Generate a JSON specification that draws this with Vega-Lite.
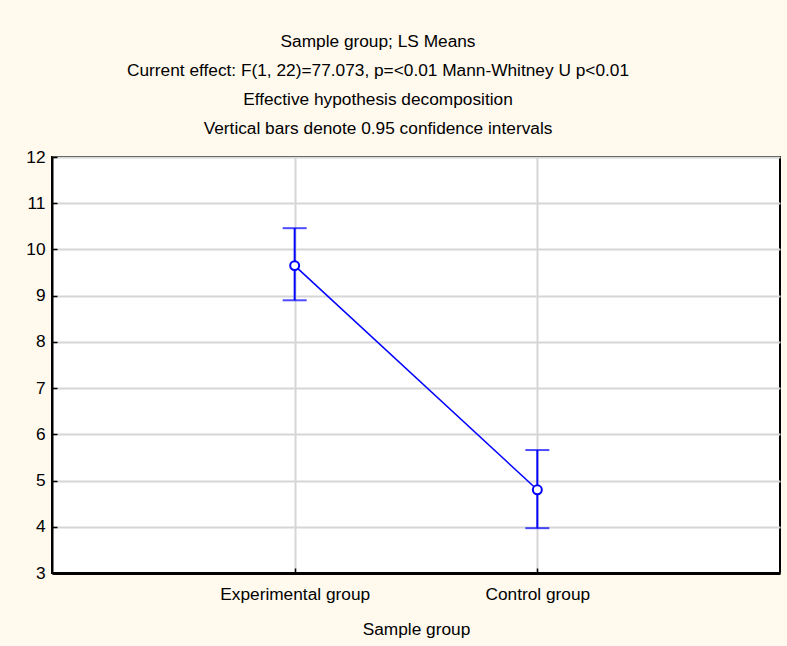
{
  "$schema": "https://vega.github.io/schema/vega-lite/v6.json",
  "autosize": "none",
  "width": 728,
  "height": 416,
  "padding": {"left": 52, "top": 157, "right": 7, "bottom": 73},
  "background": "#FFF9EE",
  "title": {
    "text": ["Sample group; LS Means", "Current effect: F(1, 22)=77.073, p=<0.01 Mann-Whitney U p<0.01", "Effective hypothesis decomposition", "Vertical bars denote 0.95 confidence intervals"],
    "anchor": "middle",
    "frame": "group",
    "dx": -38,
    "offset": 11,
    "font": "Liberation Sans",
    "fontSize": 17.3,
    "fontWeight": "normal",
    "color": "#000000",
    "lineHeight": 29
  },
  "config": {
    "view": {"fill": "#FFFFFF", "stroke": "#000000", "strokeWidth": 2},
    "axis": {
      "labelFont": "Liberation Sans",
      "labelFontSize": 17.3,
      "labelColor": "#000000",
      "titleFont": "Liberation Sans",
      "titleFontSize": 17.3,
      "titleFontWeight": "normal",
      "titleColor": "#000000",
      "gridColor": "#D6D6D6",
      "gridWidth": 2,
      "domainColor": "#000000",
      "tickColor": "#000000",
      "tickWidth": 1.5
    }
  },
  "data": {
    "values": [
      {"group": "Experimental group", "mean": 9.65, "lower": 8.9, "upper": 10.46},
      {"group": "Control group", "mean": 4.8, "lower": 3.97, "upper": 5.66}
    ]
  },
  "encoding": {
    "x": {
      "field": "group",
      "type": "nominal",
      "sort": ["Experimental group", "Control group"],
      "scale": {"type": "point", "padding": 1},
      "axis": {
        "title": "Sample group",
        "labelAngle": 0,
        "grid": true,
        "domainWidth": 3,
        "tickSize": -5,
        "labelPadding": 17,
        "titlePadding": 18
      }
    }
  },
  "layer": [
    {
      "mark": {"type": "line", "color": "#0000FF", "strokeWidth": 1.5},
      "encoding": {
        "y": {
          "field": "mean",
          "type": "quantitative",
          "scale": {"domain": [3, 12], "nice": false, "zero": false},
          "axis": {
            "title": null,
            "values": [3, 4, 5, 6, 7, 8, 9, 10, 11, 12],
            "grid": true,
            "domainWidth": 2,
            "tickSize": -5,
            "labelPadding": 12
          }
        }
      }
    },
    {
      "mark": {"type": "rule", "color": "#0000FF", "strokeWidth": 2},
      "encoding": {
        "y": {"field": "lower", "type": "quantitative"},
        "y2": {"field": "upper"}
      }
    },
    {
      "mark": {"type": "tick", "color": "#0000FF", "size": 24, "thickness": 2},
      "encoding": {"y": {"field": "upper", "type": "quantitative"}}
    },
    {
      "mark": {"type": "tick", "color": "#0000FF", "size": 24, "thickness": 2},
      "encoding": {"y": {"field": "lower", "type": "quantitative"}}
    },
    {
      "mark": {"type": "point", "shape": "circle", "filled": true, "fill": "#FFFFFF", "stroke": "#0000FF", "strokeWidth": 2, "size": 80, "opacity": 1},
      "encoding": {"y": {"field": "mean", "type": "quantitative"}}
    }
  ]
}
